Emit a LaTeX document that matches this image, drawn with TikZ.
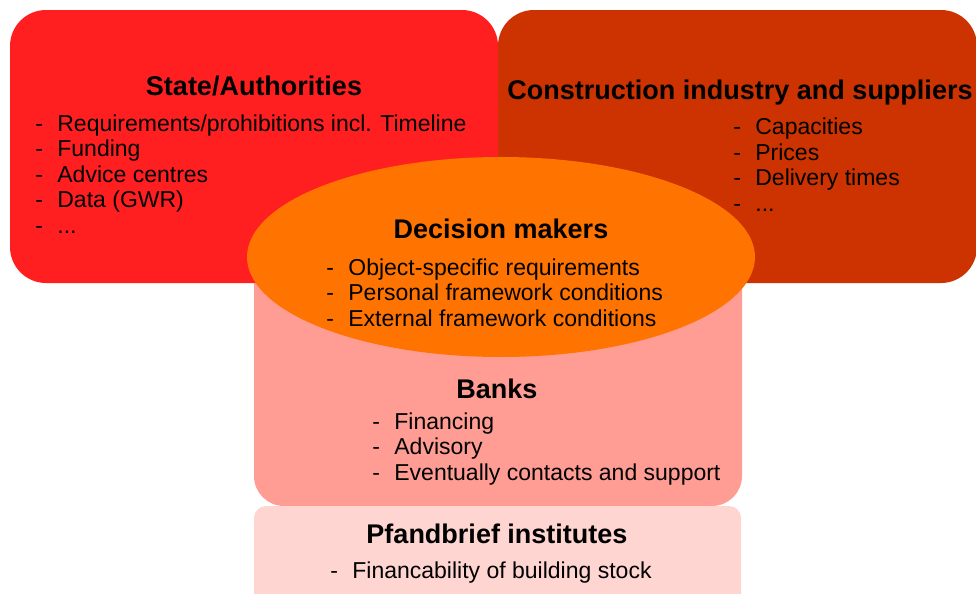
\documentclass[tikz,border=0pt]{standalone}
\usepackage{fontspec}
\setmainfont{Liberation Sans}
\usetikzlibrary{shapes.geometric}
\definecolor{stateRed}{HTML}{FF1F21}
\definecolor{buildBrown}{HTML}{CC3300}
\definecolor{deciOrange}{HTML}{FF7300}
\definecolor{bankPink}{HTML}{FF9D94}
\definecolor{pfandPink}{HTML}{FED5D0}
\def\itm#1{\makebox[11pt][l]{-}#1}
\tikzset{
	title/.style={anchor=base, inner sep=0pt, font=\fontsize{13.5}{16}\selectfont\bfseries},
	items/.style={anchor=base west, inner sep=0pt, align=left, font=\fontsize{11.5}{12.7}\selectfont},
}

\begin{document}
\begin{tikzpicture}[x=0.5pt, y=-0.5pt]
			%%%%% START %%%%%
			\useasboundingbox (0, 0) rectangle (976, 594);
			
			\fill[bankPink, rounded corners=15pt] (254, 240) rectangle (742, 506);
			\fill[pfandPink, rounded corners=6pt] (254, 506) rectangle (741, 620);
			
			\fill[stateRed, rounded corners=18pt] (10, 10) rectangle (498, 283);
			\fill[buildBrown, rounded corners=18pt] (498, 10) rectangle (977, 283);
			
			\fill[deciOrange] (501, 257) ellipse [x radius=127pt, y radius=50pt];
			
			% lists sit on the baseline of their last line
			\node[title] (state) at (254, 95) {State/Authorities};
			\node[items] (stateList) at (35, 233) {\itm{Requirements/prohibitions incl. Timeline}\\ \itm{Funding}\\ \itm{Advice centres}\\ \itm{Data (GWR)}\\ \itm{...}};
			
			\node[title] (build) at (740, 99) {Construction industry and suppliers};
			\node[items] (buildList) at (733, 211) {\itm{Capacities}\\ \itm{Prices}\\ \itm{Delivery times}\\ \itm{...}};
			
			\node[title] (deci) at (501, 238) {Decision makers};
			\node[items] (deciList) at (326, 326) {\itm{Object-specific requirements}\\ \itm{Personal framework conditions}\\ \itm{External framework conditions}};
			
			\node[title] (bank) at (497, 398) {Banks};
			\node[items] (bankList) at (372, 480) {\itm{Financing}\\ \itm{Advisory}\\ \itm{Eventually contacts and support}};
			
			\node[title] (pfand) at (497, 543) {Pfandbrief institutes};
			\node[items] (pfandList) at (330, 578) {\itm{Financability of building stock}};
			
			%%%%% END %%%%%
\end{tikzpicture}
\end{document}
